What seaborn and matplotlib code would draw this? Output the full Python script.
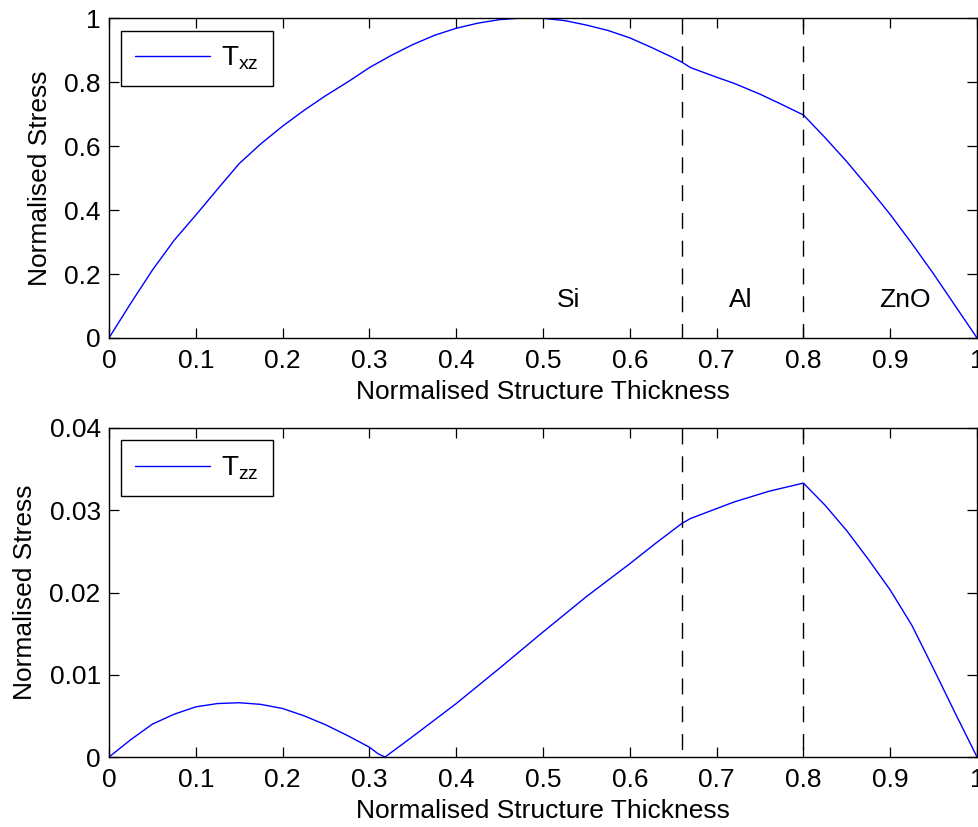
import matplotlib
matplotlib.use("Agg")
import matplotlib.pyplot as plt
import seaborn as sns
import pandas as pd

# Shear stress T_xz through the layered stack (Si / Al / ZnO)
txz_thickness = [0, 0.025, 0.05, 0.075, 0.1, 0.125, 0.15, 0.175, 0.2, 0.225,
                 0.25, 0.275, 0.3, 0.325, 0.35, 0.375, 0.4, 0.425, 0.45, 0.475,
                 0.5, 0.525, 0.55, 0.575, 0.6, 0.625, 0.65, 0.66, 0.67, 0.7,
                 0.72, 0.75, 0.775, 0.8, 0.825, 0.85, 0.875, 0.9, 0.925, 0.95,
                 0.975, 1.0]
txz_stress = [0, 0.108, 0.212, 0.305, 0.384, 0.465, 0.545, 0.607, 0.662, 0.712,
              0.758, 0.8, 0.845, 0.883, 0.917, 0.946, 0.968, 0.984, 0.995, 1.0,
              0.999, 0.992, 0.978, 0.961, 0.938, 0.908, 0.876, 0.862, 0.845,
              0.815, 0.796, 0.762, 0.73, 0.697, 0.626, 0.551, 0.47, 0.386,
              0.295, 0.2, 0.1, 0]

# Normal stress T_zz through the same stack
tzz_thickness = [0, 0.025, 0.05, 0.075, 0.1, 0.125, 0.15, 0.175, 0.2, 0.225,
                 0.25, 0.275, 0.3, 0.31, 0.318, 0.35, 0.375, 0.4, 0.45, 0.5,
                 0.55, 0.6, 0.63, 0.66, 0.67, 0.7, 0.72, 0.76, 0.8, 0.825,
                 0.85, 0.875, 0.9, 0.925, 0.95, 0.975, 1.0]
tzz_stress = [0, 0.0021, 0.0040, 0.0052, 0.0061, 0.0065, 0.0066, 0.0064,
              0.0059, 0.0050, 0.0039, 0.0026, 0.0012, 0.0004, 0, 0.0025,
              0.0045, 0.0065, 0.0108, 0.0152, 0.0195, 0.0235, 0.0260, 0.0284,
              0.0290, 0.0302, 0.0310, 0.0323, 0.0333, 0.0306, 0.0275, 0.0240,
              0.0203, 0.0160, 0.0107, 0.0053, 0]

# Layer interfaces and layer names
interfaces = [0.66, 0.8]
layer_names = ["Si", "Al", "ZnO"]
layer_label_x = [0.529, 0.728, 0.917]

x_ticks = [0, 0.1, 0.2, 0.3, 0.4, 0.5, 0.6, 0.7, 0.8, 0.9, 1.0]
x_tick_labels = ["0", "0.1", "0.2", "0.3", "0.4", "0.5", "0.6", "0.7", "0.8", "0.9", "1"]
top_y_ticks = [0, 0.2, 0.4, 0.6, 0.8, 1.0]
top_y_tick_labels = ["0", "0.2", "0.4", "0.6", "0.8", "1"]
bottom_y_ticks = [0, 0.01, 0.02, 0.03, 0.04]
bottom_y_tick_labels = ["0", "0.01", "0.02", "0.03", "0.04"]

sns.set_theme(style="ticks")
plt.rcParams["font.family"] = ["Liberation Sans", "DejaVu Sans"]
plt.rcParams["mathtext.fontset"] = "custom"
plt.rcParams["mathtext.rm"] = "Liberation Sans"
plt.rcParams["mathtext.it"] = "Liberation Sans"
plt.rcParams["text.color"] = "black"
plt.rcParams["axes.labelcolor"] = "black"
plt.rcParams["xtick.color"] = "black"
plt.rcParams["ytick.color"] = "black"

FS = 19

fig = plt.figure(figsize=(9.79, 8.27), dpi=100)
ax_top = fig.add_axes([0.1113, 0.5913, 0.8867, 0.3869])
ax_bot = fig.add_axes([0.1113, 0.0846, 0.8867, 0.3979])

top_df = pd.DataFrame({"thickness": txz_thickness, "stress": txz_stress})
bot_df = pd.DataFrame({"thickness": tzz_thickness, "stress": tzz_stress})


def style_axes(ax, yticks, ylabels, ymax):
    ax.set_xlim(0, 1)
    ax.set_ylim(0, ymax)
    ax.set_xticks(x_ticks)
    ax.set_xticklabels(x_tick_labels, fontsize=FS)
    ax.set_yticks(yticks)
    ax.set_yticklabels(ylabels, fontsize=FS)
    ax.tick_params(direction="in", length=7, width=0.9, top=True, right=True,
                   colors="black")
    ax.tick_params(axis="x", pad=8)
    ax.tick_params(axis="y", pad=6)
    for s in ax.spines.values():
        s.set_visible(True)
        s.set_linewidth(1.0)
        s.set_color("black")
    ax.set_xlabel("Normalised Structure Thickness", fontsize=FS, labelpad=5)
    ax.set_ylabel("Normalised Stress", fontsize=FS, labelpad=9)


# Upper panel: T_xz
sns.lineplot(data=top_df, x="thickness", y="stress", ax=ax_top, color="#0000ff",
             linewidth=1.0, estimator=None, sort=False,
             label=r"T$_{\mathregular{xz}}$")
for xi in interfaces:
    ax_top.plot([xi, xi], [1.0, 0.0], color="black", linewidth=1.0,
                dashes=(11.5, 8.5))
for name, lx in zip(layer_names, layer_label_x):
    ax_top.text(lx, 0.12, name, fontsize=FS, ha="center", va="center",
                color="black")
style_axes(ax_top, top_y_ticks, top_y_tick_labels, 1.0)

# Lower panel: T_zz
sns.lineplot(data=bot_df, x="thickness", y="stress", ax=ax_bot, color="#0000ff",
             linewidth=1.0, estimator=None, sort=False,
             label=r"T$_{\mathregular{zz}}$")
for xi in interfaces:
    ax_bot.plot([xi, xi], [0.04, 0.0], color="black", linewidth=1.0,
                dashes=(11.5, 8.5))
style_axes(ax_bot, bottom_y_ticks, bottom_y_tick_labels, 0.04)

for ax in (ax_top, ax_bot):
    leg = ax.legend(loc="upper left", fontsize=FS + 1, frameon=True,
                    fancybox=False, handlelength=2.7, handletextpad=0.4,
                    borderpad=0.5, borderaxespad=0.45)
    leg.get_frame().set_edgecolor("black")
    leg.get_frame().set_linewidth(1.0)
    leg.get_frame().set_alpha(1.0)
    for t in leg.get_texts():
        t.set_color("black")

fig.savefig("out.png", dpi=100, facecolor="white")
